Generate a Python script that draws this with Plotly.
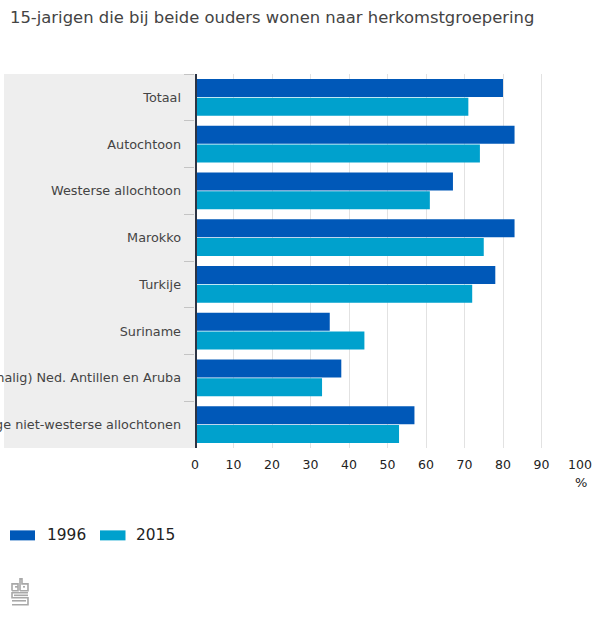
import plotly.graph_objects as go

categories = ["Totaal", "Autochtoon", "Westerse allochtoon", "Marokko", "Turkije", "Suriname",
              "(Voormalig) Ned. Antillen en Aruba", "Overige niet-westerse allochtonen"]
values_1996 = [80, 83, 67, 83, 78, 35, 38, 57]
values_2015 = [71, 74, 61, 75, 72, 44, 33, 53]
x_ticks = [0, 10, 20, 30, 40, 50, 60, 70, 80, 90, 100]
C1, C2 = "#0058b8", "#00a1cd"
FONT = "DejaVu Sans"

L, R, T, B = 195, 580, 73.5, 448
px = lambda v: (v - L) / (R - L)
py = lambda v: (B - v) / (B - T)

fig = go.Figure()
fig.add_bar(name="1996", y=categories, x=values_1996, orientation="h", marker=dict(color=C1, line_width=0),
            showlegend=False)
fig.add_bar(name="2015", y=categories, x=values_2015, orientation="h", marker=dict(color=C2, line_width=0),
            showlegend=False)

shapes = [
    dict(type="rect", xref="paper", yref="paper", x0=px(4), x1=px(195), y0=0, y1=1,
         fillcolor="#eeeeee", line_width=0, layer="below"),
    dict(type="line", xref="paper", yref="paper", x0=px(196), x1=px(196), y0=0, y1=1,
         line=dict(color="#2c3444", width=2)),
    dict(type="rect", xref="paper", yref="paper", x0=px(10), x1=px(35), y0=py(530.5), y1=py(540.5),
         fillcolor=C1, line_width=0),
    dict(type="rect", xref="paper", yref="paper", x0=px(100), x1=px(125.5), y0=py(530.5), y1=py(540.5),
         fillcolor=C2, line_width=0),
]
# cbs logo, drawn as outline strokes in pixel positions
logo = [
    [(12, 591), (12, 584), (18, 584), (18, 591), (12, 591)],
    [(20, 591), (20, 579), (22, 579), (22, 584), (28, 584), (28, 591), (20, 591)],
    [(23, 587), (25, 587)],
    [(15, 587), (18, 587)],
    [(28, 593), (12, 593), (12, 598), (28, 598), (28, 605), (12, 605)],
    [(14, 595.5), (28, 595.5)],
    [(12, 601), (26, 601)],
]
for seg in logo:
    d = "M" + " L".join(f"{px(a):.4f},{py(b):.4f}" for a, b in seg)
    shapes.append(dict(type="path", xref="paper", yref="paper", path=d, line=dict(color="#a8a8a8", width=1.6)))

annotations = [
    dict(text="15-jarigen die bij beide ouders wonen naar herkomstgroepering", xref="paper", yref="paper",
         x=px(7.5), y=py(17), xanchor="left", yanchor="middle", showarrow=False,
         font=dict(family=FONT, size=16.4, color="#444444")),
    dict(text="%", xref="paper", yref="paper", x=px(581), y=py(483), xanchor="center", yanchor="middle",
         showarrow=False, font=dict(family=FONT, size=13, color="#222222")),
    dict(text="1996", xref="paper", yref="paper", x=px(44.5), y=py(535.5), xanchor="left", yanchor="middle",
         showarrow=False, font=dict(family=FONT, size=15.4, color="#222222")),
    dict(text="2015", xref="paper", yref="paper", x=px(133.5), y=py(535.5), xanchor="left", yanchor="middle",
         showarrow=False, font=dict(family=FONT, size=15.4, color="#222222")),
]

fig.update_layout(
    width=600, height=626, autosize=False,
    margin=dict(l=L, r=600 - R, t=T, b=626 - B, pad=0, autoexpand=False),
    paper_bgcolor="white", plot_bgcolor="white",
    barmode="group", bargap=0.2, bargroupgap=0.03,
    shapes=shapes, annotations=annotations, showlegend=False,
    font=dict(family=FONT),
)
fig.update_xaxes(range=[0, 100], tickvals=x_ticks, showgrid=True, gridcolor="#e2e2e2", gridwidth=1,
                 zeroline=False, showline=False, ticks="outside", ticklen=5, tickcolor="rgba(0,0,0,0)",
                 automargin=False, tickfont=dict(size=12.5, color="#222222"))
fig.update_yaxes(autorange="reversed", tickson="boundaries", ticks="outside", ticklen=10, tickcolor="#c4c4c4",
                 tickwidth=1, showgrid=False, showline=False, zeroline=False,
                 automargin=False, ticklabelstandoff=13, tickfont=dict(size=12.8, color="#444444"))

fig.write_html("out.html", config=dict(displayModeBar=False), post_script="document.body.style.margin='0';")
